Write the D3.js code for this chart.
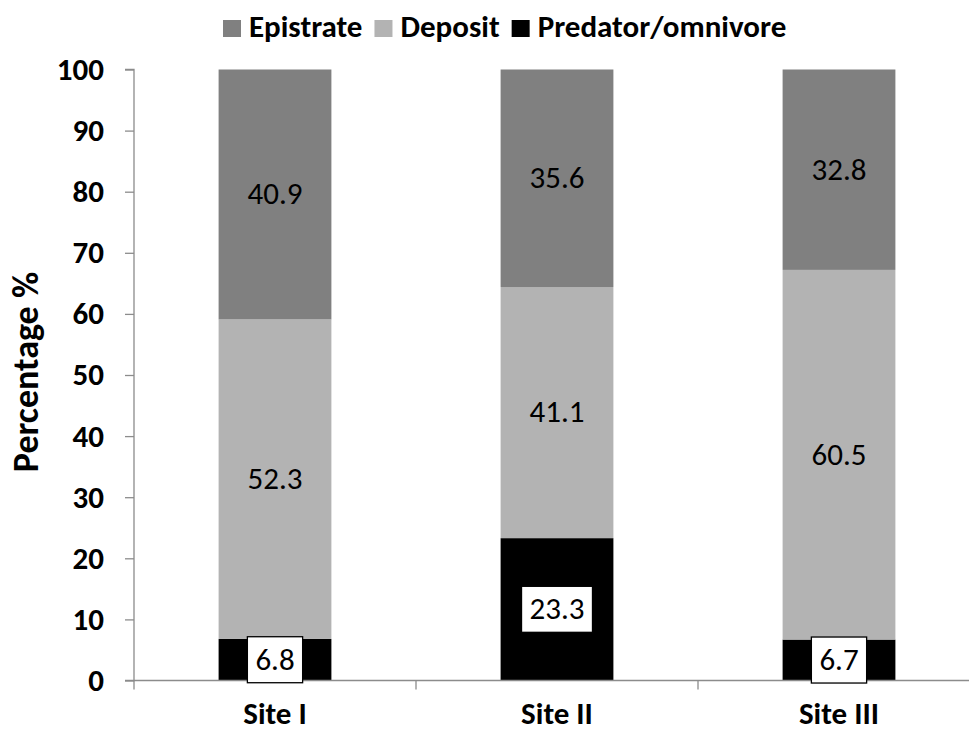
<!DOCTYPE html>
<html>
<head>
<meta charset="utf-8">
<script src="https://cdn.jsdelivr.net/npm/d3@7"></script>
<style>
  body { margin: 0; background: #fff; }
  svg { display: block; }
  svg text { font-family: Carlito, Calibri, "Open Sans", sans-serif; }
</style>
</head>
<body>
<svg id="chart" width="969" height="732"></svg>
<script>
// Daten
const sites = ['Site I', 'Site II', 'Site III'];
const seriesNames = ['Predator/omnivore', 'Deposit', 'Epistrate'];
const predator = [6.8, 23.3, 6.7];
const deposit = [52.3, 41.1, 60.5];
const epistrate = [40.9, 35.6, 32.8];
const yTicks = [0, 10, 20, 30, 40, 50, 60, 70, 80, 90, 100];
const legendOrder = ['Epistrate', 'Deposit', 'Predator/omnivore'];

const colors = {
    'Epistrate': '#808080',
    'Deposit': '#b3b3b3',
    'Predator/omnivore': '#000000'
};

const svg = d3.select('#chart');
const margin = { top: 69.5, left: 134 };
const width = 846;
const height = 611;
const axisColor = '#8c8c8c';

const g = svg.append('g')
    .attr('transform', `translate(${margin.left},${margin.top})`);

// Tabelle fuer d3.stack
const table = sites.map((s, i) => ({
    site: s,
    'Predator/omnivore': predator[i],
    'Deposit': deposit[i],
    'Epistrate': epistrate[i]
}));
const stacked = d3.stack().keys(seriesNames)(table);

// Skalen
const x = d3.scaleBand().domain(sites).range([0, width]).paddingInner(0.6).paddingOuter(0.3);
const xOuter = d3.scaleBand().domain(sites).range([0, width]);
const y = d3.scaleLinear().domain([0, 100]).range([height, 0]);

// Y-Achse
const yAxis = g.append('g')
    .call(d3.axisLeft(y).tickValues(yTicks).tickSize(9).tickPadding(21));
yAxis.attr('font-family', null).attr('font-size', null);
yAxis.select('.domain').attr('stroke', axisColor).attr('stroke-width', 1.3).attr('d', `M-9,0H0V${height}H-9`);
yAxis.selectAll('.tick line').attr('stroke', axisColor).attr('stroke-width', 1.3);
yAxis.selectAll('.tick text')
    .style('font-size', '31px')
    .style('font-weight', 'bold')
    .attr('fill', '#000')
    .attr('dy', '0.32em');

// Balken
g.selectAll('.series')
    .data(stacked)
    .enter()
    .append('g')
    .attr('fill', d => colors[d.key])
    .selectAll('rect')
    .data(d => d)
    .enter()
    .append('rect')
    .attr('x', d => x(d.data.site))
    .attr('y', d => y(d[1]))
    .attr('width', x.bandwidth())
    .attr('height', d => y(d[0]) - y(d[1]));

// X-Achse
const xAxis = g.append('g')
    .attr('transform', `translate(0,${height})`);
xAxis.append('line')
    .attr('x1', 0).attr('x2', width)
    .attr('stroke', axisColor).attr('stroke-width', 1.3);
xAxis.selectAll('.xtick')
    .data(sites.concat(['end']))
    .enter()
    .append('line')
    .attr('x1', (d, i) => i * xOuter.step())
    .attr('x2', (d, i) => i * xOuter.step())
    .attr('y1', 0).attr('y2', 9)
    .attr('stroke', axisColor).attr('stroke-width', 1.3);
xAxis.selectAll('.xlabel')
    .data(sites)
    .enter()
    .append('text')
    .attr('x', d => xOuter(d) + xOuter.bandwidth() / 2)
    .attr('y', 43.5)
    .attr('text-anchor', 'middle')
    .style('font-size', '31px')
    .style('font-weight', 'bold')
    .text(d => d);

// Werte in Balken
stacked.forEach(s => {
    s.forEach(d => {
        const cx = x(d.data.site) + x.bandwidth() / 2;
        const cy = (y(d[0]) + y(d[1])) / 2;
        const lg = g.append('g');
        const t = lg.append('text')
            .attr('x', cx)
            .attr('y', cy)
            .attr('dy', '0.32em')
            .attr('text-anchor', 'middle')
            .style('font-size', '31px')
            .attr('fill', '#000')
            .text(d.data[s.key].toFixed(1));
        if (s.key === 'Predator/omnivore') {
            const bb = t.node().getBBox();
            lg.insert('rect', 'text')
                .attr('x', bb.x - 8)
                .attr('y', cy - 23)
                .attr('width', bb.width + 16)
                .attr('height', 46)
                .attr('fill', '#fff')
                .attr('stroke', '#000')
                .attr('stroke-width', 1.3);
        }
    });
});

// Y-Achsentitel
svg.append('text')
    .attr('transform', `translate(38,${margin.top + height / 2 - 3}) rotate(-90)`)
    .attr('text-anchor', 'middle')
    .style('font-size', '36px')
    .style('font-weight', 'bold')
    .text('Percentage %');

// Legende
const legend = svg.append('g').attr('transform', 'translate(223,37)');
let lx = 0;
legendOrder.forEach(name => {
    const item = legend.append('g').attr('transform', `translate(${lx},0)`);
    item.append('rect')
        .attr('x', 0).attr('y', -17)
        .attr('width', 18).attr('height', 17)
        .attr('fill', colors[name]);
    const t = item.append('text')
        .attr('x', 26)
        .attr('y', 0)
        .style('font-size', '31px')
        .style('font-weight', 'bold')
        .text(name);
    lx += 26 + t.node().getComputedTextLength() + 12;
});
</script>
</body>
</html>
